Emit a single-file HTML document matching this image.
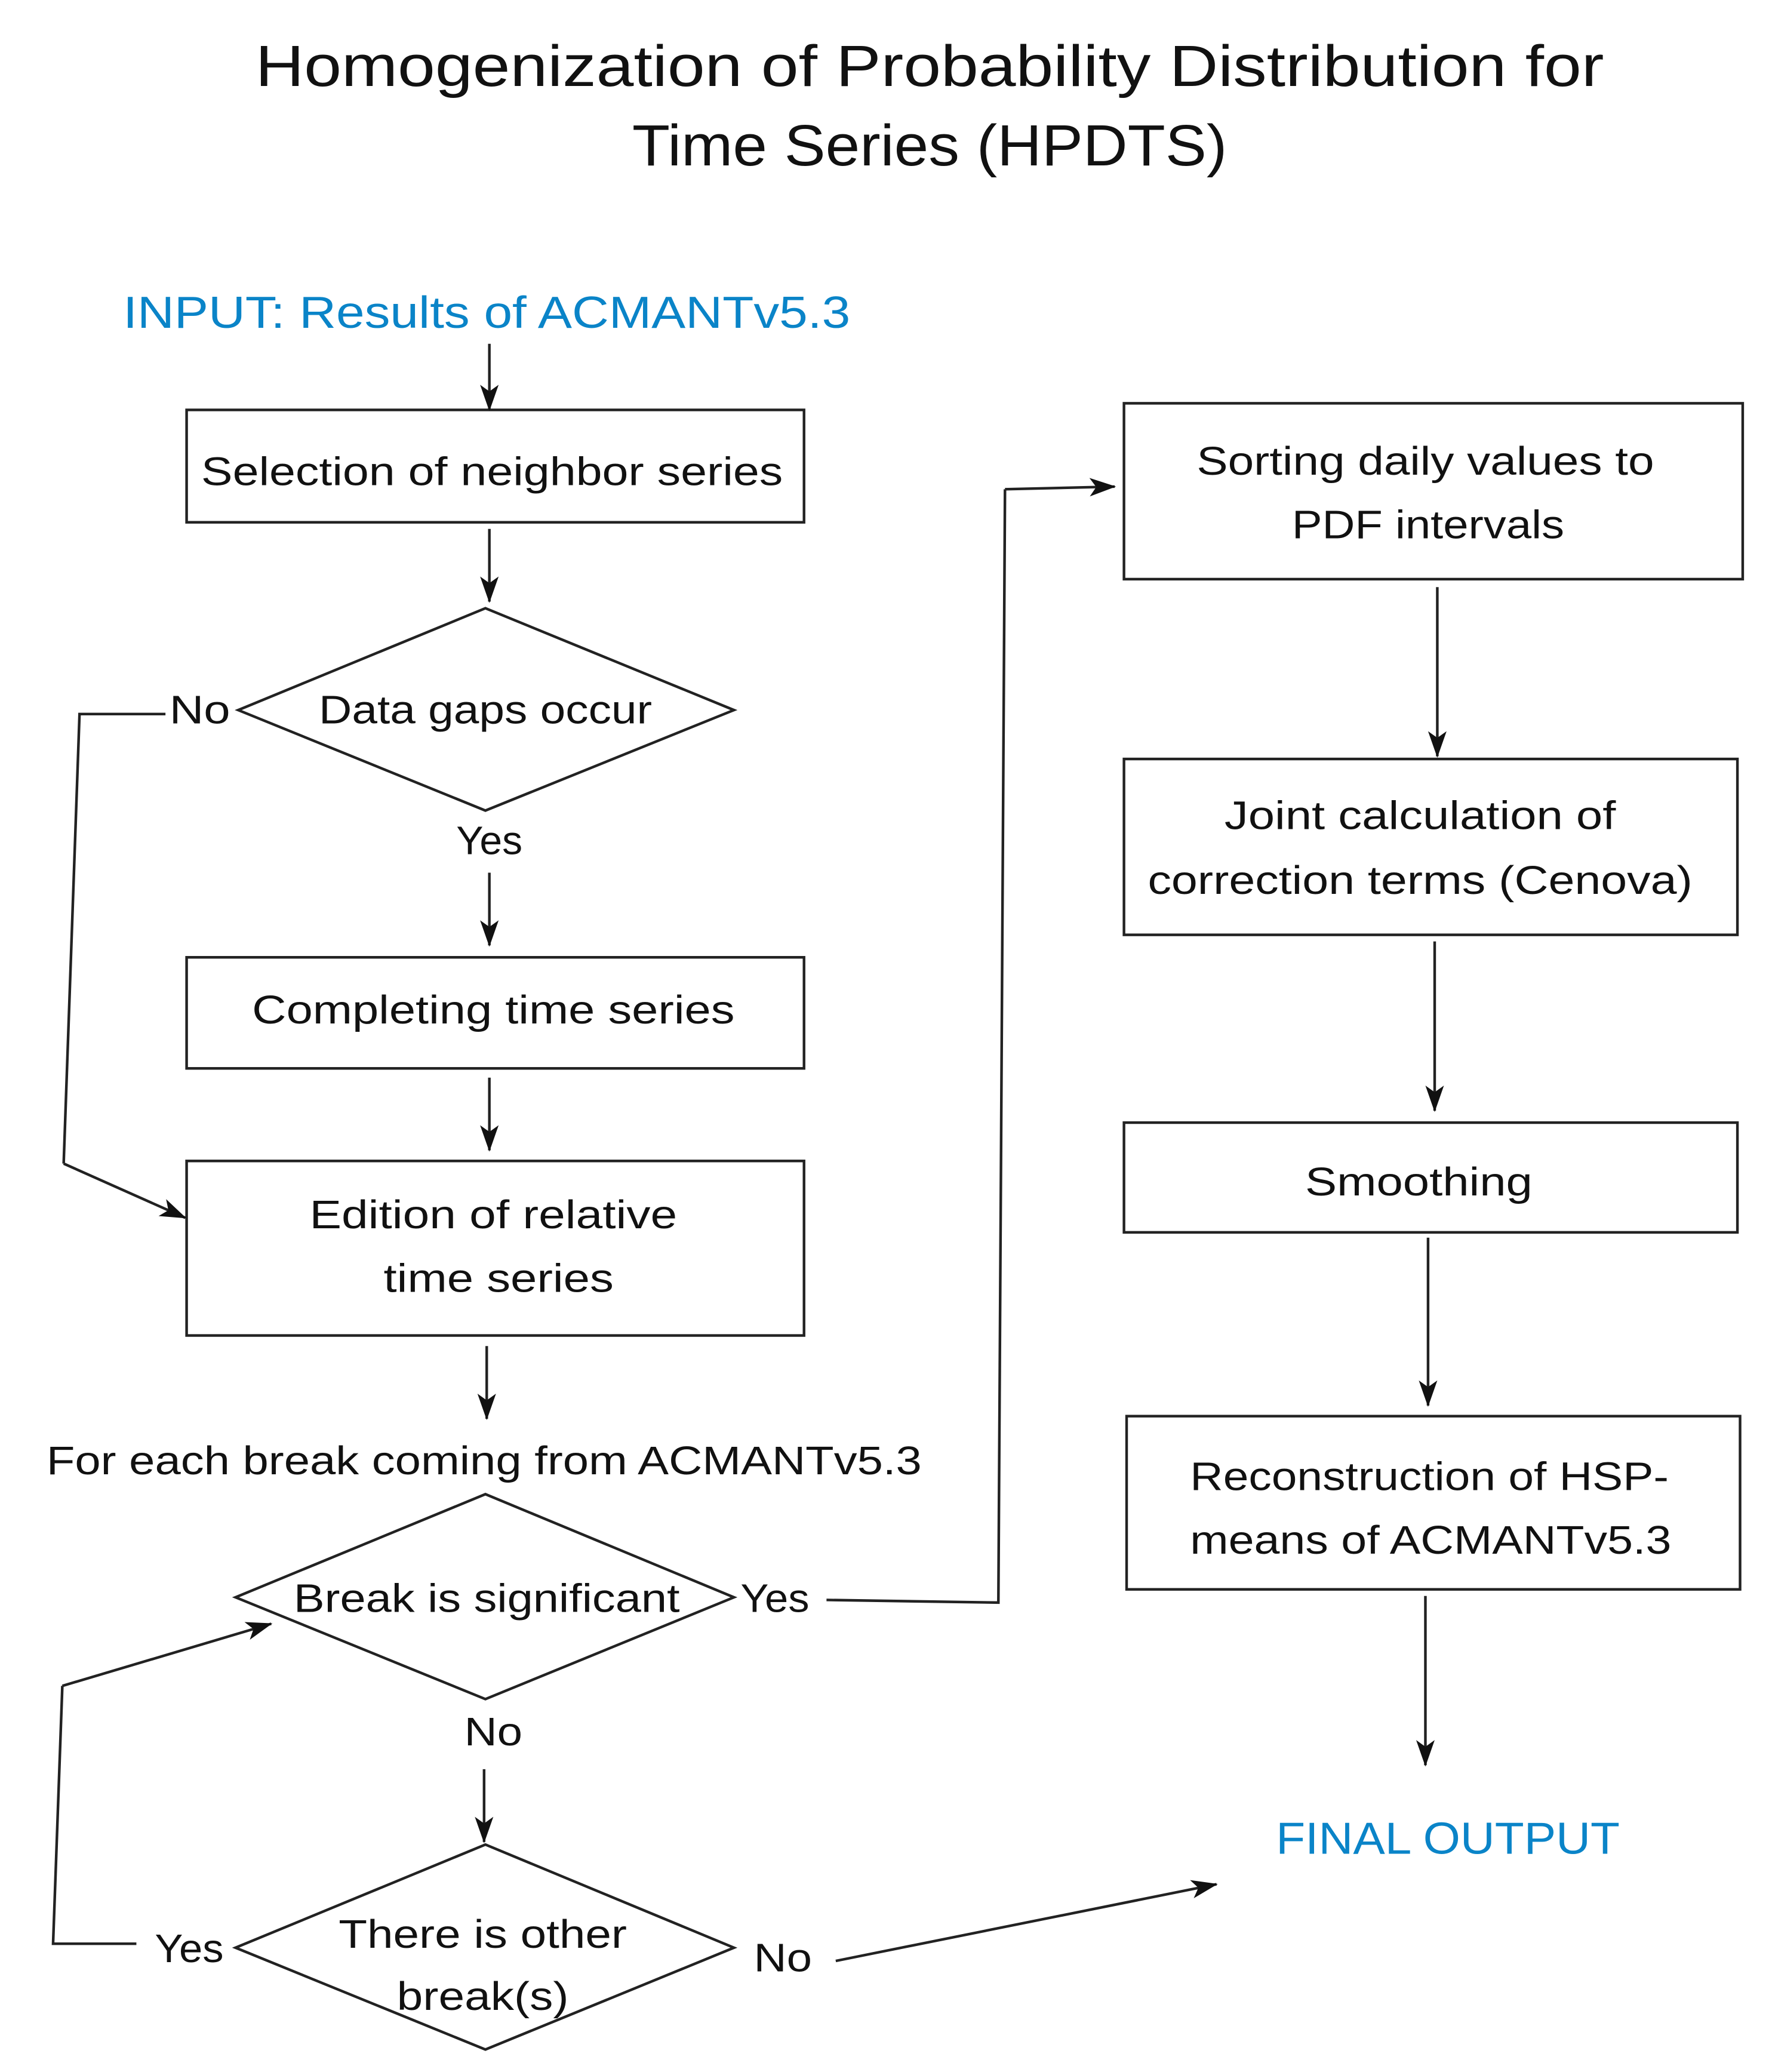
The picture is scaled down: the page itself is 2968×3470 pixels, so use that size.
<!DOCTYPE html>
<html><head><meta charset="utf-8"><style>
html,body{margin:0;padding:0;background:#fff;}
svg{display:block;}
text{font-family:"Liberation Sans",sans-serif;fill:#111;}
</style></head><body>
<svg width="2968" height="3470" viewBox="0 0 1340 1567" xmlns="http://www.w3.org/2000/svg">
<defs>
<marker id="a" viewBox="0 0 20 20" refX="19" refY="10" markerWidth="20" markerHeight="20" markerUnits="userSpaceOnUse" orient="auto">
<path d="M0,3 L20,10 L0,17 L5,10 Z" fill="#111"/>
</marker>
</defs>
<g fill="none" stroke="#222" stroke-width="2">
<!-- left boxes -->
<rect x="141" y="310" width="467" height="85"/>
<rect x="141" y="724" width="467" height="84"/>
<rect x="141" y="878" width="467" height="132"/>
<polygon points="180,537 367,460 555,537 367,613"/>
<polygon points="178,1208 367,1130 555,1208 367,1285"/>
<polygon points="178,1473 367,1395 555,1473 367,1550"/>
<!-- right boxes -->
<rect x="850" y="305" width="468" height="133"/>
<rect x="850" y="574" width="464" height="133"/>
<rect x="850" y="849" width="464" height="83"/>
<rect x="852" y="1071" width="464" height="131"/>
<!-- arrows -->
<line x1="370" y1="260" x2="370" y2="310" marker-end="url(#a)"/>
<line x1="370" y1="400" x2="370" y2="455" marker-end="url(#a)"/>
<line x1="370" y1="660" x2="370" y2="715" marker-end="url(#a)"/>
<line x1="370" y1="815" x2="370" y2="870" marker-end="url(#a)"/>
<line x1="368" y1="1018" x2="368" y2="1073" marker-end="url(#a)"/>
<line x1="366" y1="1338" x2="366" y2="1393" marker-end="url(#a)"/>
<polyline points="125,540 60,540 48,880"/>
<line x1="48" y1="880" x2="140" y2="921" marker-end="url(#a)"/>
<polyline points="625,1210 755,1212 760,370"/>
<line x1="760" y1="370" x2="843" y2="368" marker-end="url(#a)"/>
<polyline points="103,1470 40,1470 47,1275"/>
<line x1="47" y1="1275" x2="205" y2="1228" marker-end="url(#a)"/>
<line x1="632" y1="1483" x2="920" y2="1425" marker-end="url(#a)"/>
<line x1="1087" y1="444" x2="1087" y2="572" marker-end="url(#a)"/>
<line x1="1085" y1="712" x2="1085" y2="840" marker-end="url(#a)"/>
<line x1="1080" y1="936" x2="1080" y2="1063" marker-end="url(#a)"/>
<line x1="1078" y1="1207" x2="1078" y2="1335" marker-end="url(#a)"/>
</g>
<g font-size="44" text-anchor="middle">
<text x="703" y="65" textLength="1020" lengthAdjust="spacingAndGlyphs">Homogenization of Probability Distribution for</text>
<text x="703" y="125" textLength="450" lengthAdjust="spacingAndGlyphs">Time Series (HPDTS)</text>
</g>
<g font-size="34">
<text x="93" y="248" textLength="550" lengthAdjust="spacingAndGlyphs" style="fill:#0a84c8">INPUT: Results of ACMANTv5.3</text>
<text x="965" y="1402" textLength="260" lengthAdjust="spacingAndGlyphs" style="fill:#0a84c8">FINAL OUTPUT</text>
</g>
<g font-size="30" text-anchor="middle">
<text x="372" y="367" textLength="440" lengthAdjust="spacingAndGlyphs">Selection of neighbor series</text>
<text x="367" y="547" textLength="252" lengthAdjust="spacingAndGlyphs">Data gaps occur</text>
<text x="370" y="646" textLength="50" lengthAdjust="spacingAndGlyphs">Yes</text>
<text x="373" y="774" textLength="365" lengthAdjust="spacingAndGlyphs">Completing time series</text>
<text x="373" y="929" textLength="278" lengthAdjust="spacingAndGlyphs">Edition of relative</text>
<text x="377" y="977" textLength="174" lengthAdjust="spacingAndGlyphs">time series</text>
<text x="368" y="1219" textLength="292" lengthAdjust="spacingAndGlyphs">Break is significant</text>
<text x="373" y="1320" textLength="44" lengthAdjust="spacingAndGlyphs">No</text>
<text x="365" y="1473" textLength="218" lengthAdjust="spacingAndGlyphs">There is other</text>
<text x="365" y="1520" textLength="130" lengthAdjust="spacingAndGlyphs">break(s)</text>
<text x="1078" y="359" textLength="346" lengthAdjust="spacingAndGlyphs">Sorting daily values to</text>
<text x="1080" y="407" textLength="206" lengthAdjust="spacingAndGlyphs">PDF intervals</text>
<text x="1074" y="627" textLength="296" lengthAdjust="spacingAndGlyphs">Joint calculation of</text>
<text x="1074" y="676" textLength="412" lengthAdjust="spacingAndGlyphs">correction terms (Cenova)</text>
<text x="1073" y="904" textLength="172" lengthAdjust="spacingAndGlyphs">Smoothing</text>
<text x="1081" y="1127" textLength="362" lengthAdjust="spacingAndGlyphs">Reconstruction of HSP-</text>
<text x="1082" y="1175" textLength="364" lengthAdjust="spacingAndGlyphs">means of ACMANTv5.3</text>
</g>
<g font-size="30">
<text x="128" y="547" textLength="46" lengthAdjust="spacingAndGlyphs">No</text>
<text x="35" y="1115" textLength="662" lengthAdjust="spacingAndGlyphs">For each break coming from ACMANTv5.3</text>
<text x="560" y="1219" textLength="52" lengthAdjust="spacingAndGlyphs">Yes</text>
<text x="117" y="1484" textLength="52" lengthAdjust="spacingAndGlyphs">Yes</text>
<text x="570" y="1491" textLength="44" lengthAdjust="spacingAndGlyphs">No</text>
</g>
</svg>
</body></html>
